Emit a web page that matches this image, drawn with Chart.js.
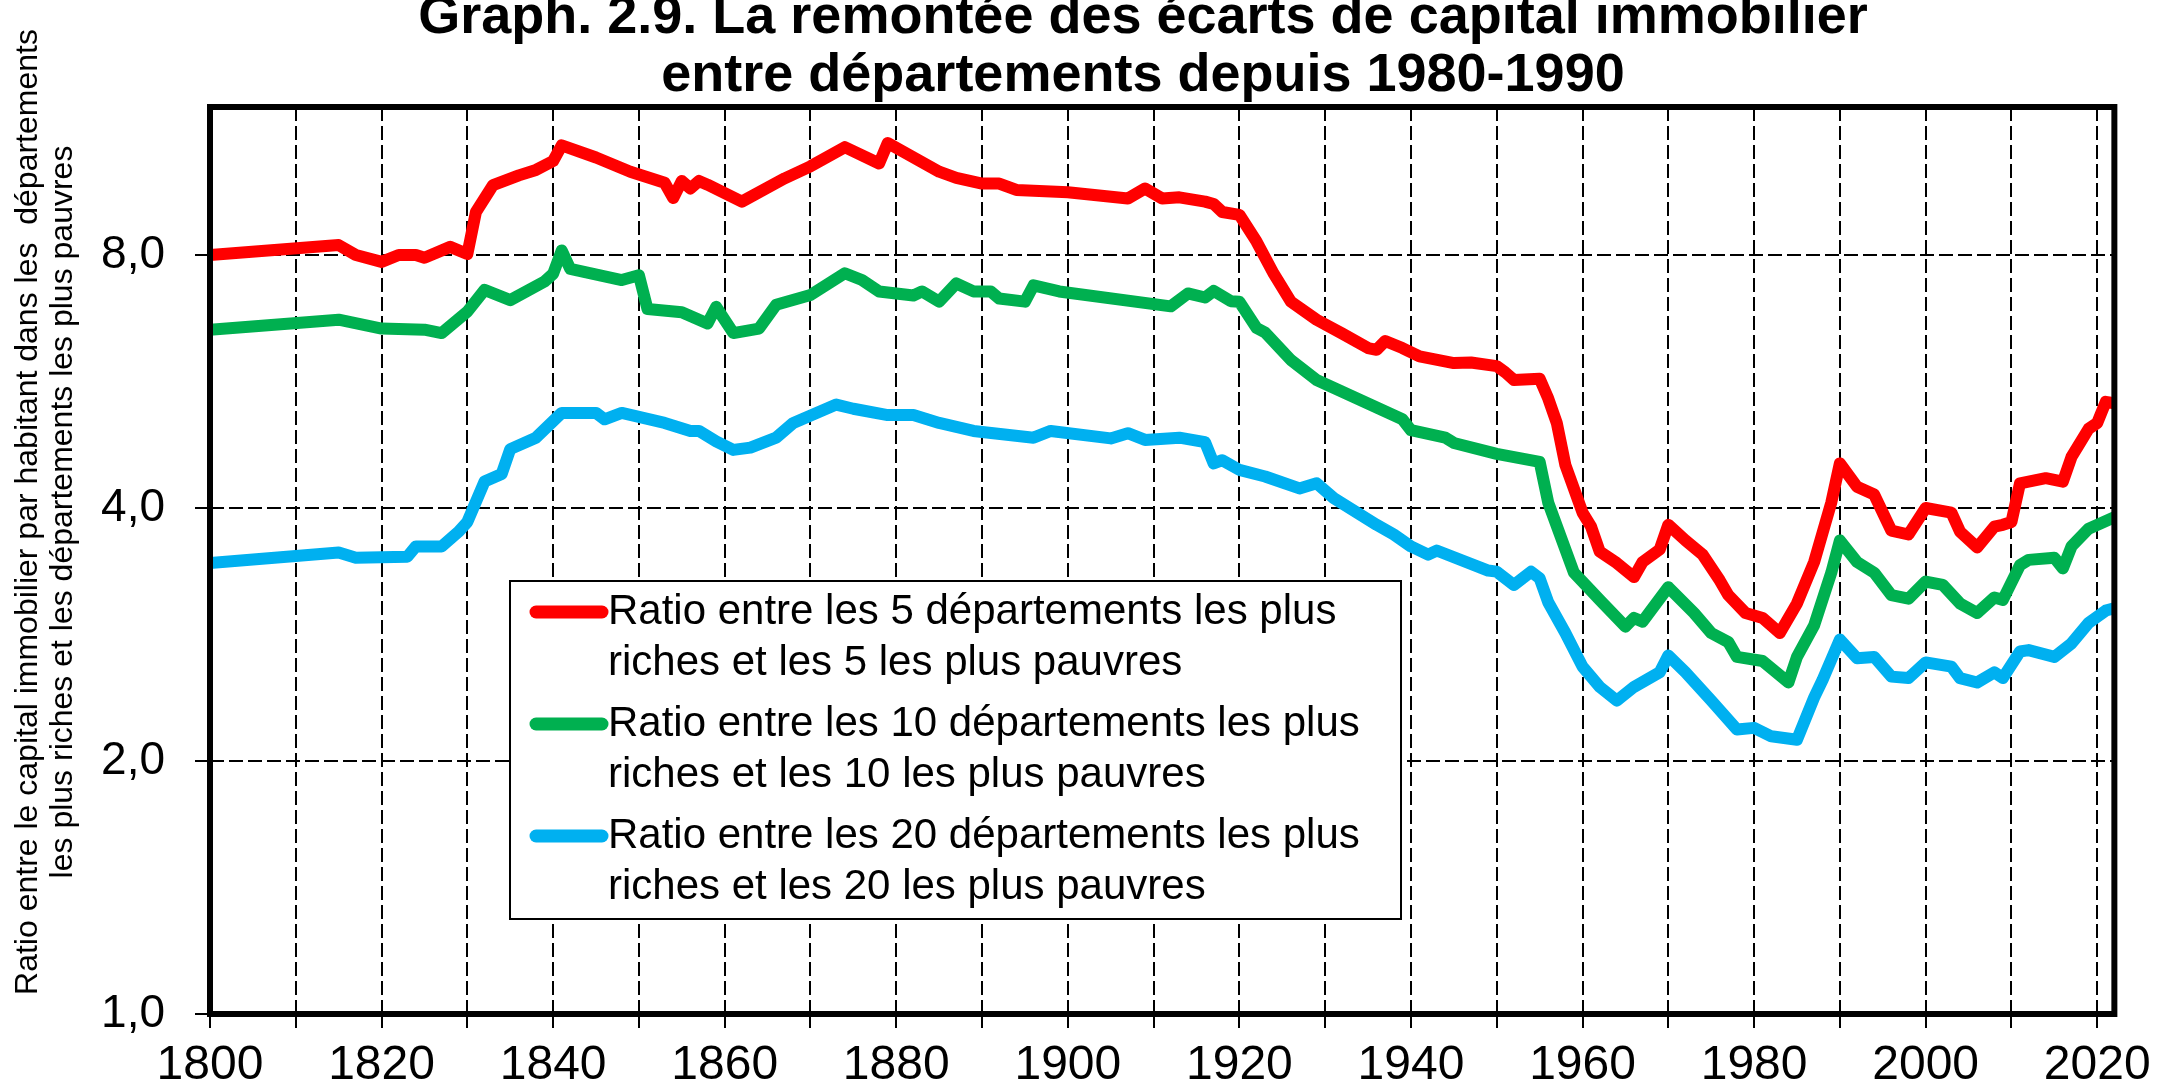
<!DOCTYPE html>
<html lang="fr">
<head>
<meta charset="utf-8">
<script src="https://cdn.jsdelivr.net/npm/chart.js@4.4.1/dist/chart.umd.min.js"></script>
<style>
  html, body { margin: 0; padding: 0; background: #fff; }
</style>
</head>
<body>
<canvas id="graph" width="2160" height="1088"></canvas>
<script>
// Données (ratio, échelle log)
const years5 = [1800,1815,1817,1820,1822,1824,1825,1828,1830,1831,1833,1836,1838,1840,1841,1845,1849,1853,1854,1855,1856,1857,1858,1862,1867,1870,1874,1878,1879,1885,1887,1890,1892,1894,1900,1907,1909,1911,1913,1916,1917,1918,1920,1922,1924,1926,1929,1932,1935,1936,1937,1939,1941,1945,1947,1950,1951,1952,1955,1956,1957,1958,1960,1961,1962,1964,1966,1967,1969,1970,1972,1974,1976,1977,1979,1981,1983,1985,1987,1989,1990,1992,1994,1996,1998,2000,2003,2004,2006,2008,2009,2010,2011,2014,2016,2017,2018,2019,2020,2021,2022];
const ratio5 = [8.0,8.22,8.0,7.85,8.0,8.0,7.94,8.18,8.02,9.0,9.69,9.95,10.1,10.35,10.8,10.45,10.05,9.75,9.35,9.8,9.6,9.8,9.7,9.26,9.87,10.2,10.75,10.28,10.87,10.05,9.88,9.73,9.73,9.56,9.5,9.34,9.6,9.34,9.37,9.26,9.2,9.0,8.93,8.3,7.6,7.04,6.7,6.45,6.2,6.17,6.32,6.2,6.06,5.95,5.96,5.9,5.8,5.68,5.7,5.4,5.05,4.5,3.95,3.8,3.55,3.44,3.31,3.45,3.57,3.82,3.66,3.52,3.28,3.15,3.0,2.96,2.84,3.08,3.45,4.06,4.52,4.24,4.15,3.76,3.72,4.0,3.95,3.75,3.59,3.8,3.82,3.85,4.28,4.34,4.3,4.6,4.78,4.97,5.05,5.35,5.33];

const years10 = [1800,1815,1820,1825,1827,1830,1832,1835,1839,1840,1841,1842,1848,1850,1851,1855,1858,1859,1861,1864,1866,1870,1874,1876,1878,1882,1883,1885,1887,1889,1891,1892,1895,1896,1899,1912,1914,1916,1917,1919,1920,1922,1923,1926,1929,1939,1940,1944,1945,1950,1955,1956,1959,1962,1965,1966,1967,1970,1973,1975,1977,1978,1981,1984,1985,1987,1989,1990,1992,1994,1996,1998,2000,2002,2004,2006,2008,2009,2011,2012,2015,2016,2017,2019,2022];
const ratio10 = [6.52,6.7,6.54,6.52,6.46,6.85,7.27,7.07,7.44,7.6,8.1,7.7,7.47,7.57,6.9,6.84,6.63,6.94,6.46,6.54,6.98,7.17,7.61,7.47,7.24,7.16,7.24,7.04,7.4,7.24,7.24,7.1,7.04,7.36,7.24,6.95,7.2,7.12,7.25,7.05,7.04,6.55,6.47,6.0,5.68,5.1,4.95,4.85,4.78,4.64,4.54,4.06,3.35,3.11,2.89,2.96,2.93,3.22,3.0,2.84,2.77,2.66,2.63,2.48,2.66,2.9,3.35,3.66,3.45,3.35,3.15,3.12,3.27,3.24,3.08,3.0,3.13,3.11,3.42,3.47,3.49,3.39,3.6,3.78,3.9];

const years20 = [1800,1815,1817,1823,1824,1827,1829,1830,1832,1834,1835,1838,1841,1845,1846,1848,1853,1856,1857,1859,1861,1863,1866,1868,1873,1875,1879,1882,1885,1889,1896,1898,1905,1907,1909,1913,1916,1917,1918,1920,1923,1927,1929,1931,1936,1938,1940,1942,1943,1949,1950,1952,1954,1955,1956,1958,1960,1962,1964,1966,1969,1970,1972,1975,1978,1980,1982,1985,1987,1988,1990,1992,1994,1996,1998,2000,2003,2004,2006,2008,2009,2011,2012,2015,2017,2019,2021,2022];
const ratio20 = [3.44,3.54,3.49,3.5,3.6,3.6,3.75,3.85,4.3,4.39,4.7,4.85,5.19,5.19,5.1,5.19,5.05,4.94,4.94,4.8,4.69,4.72,4.85,5.05,5.31,5.25,5.16,5.16,5.05,4.94,4.85,4.94,4.84,4.91,4.82,4.85,4.79,4.52,4.56,4.44,4.36,4.22,4.28,4.11,3.82,3.72,3.6,3.52,3.56,3.37,3.36,3.24,3.36,3.3,3.09,2.84,2.59,2.45,2.36,2.45,2.55,2.67,2.55,2.36,2.18,2.19,2.14,2.12,2.38,2.5,2.79,2.65,2.66,2.52,2.51,2.62,2.59,2.51,2.48,2.55,2.51,2.7,2.71,2.66,2.76,2.92,3.02,3.04];

const xTicks = [1800,1810,1820,1830,1840,1850,1860,1870,1880,1890,1900,1910,1920,1930,1940,1950,1960,1970,1980,1990,2000,2010,2020];
const yTicks = [1, 2, 4, 8];

const titleLines = ['Graph. 2.9. La remontée des écarts de capital immobilier', 'entre départements depuis 1980-1990'];
const yTitleLines = ['Ratio entre le capital immobilier par habitant dans les  départements', 'les plus riches et les départements les plus pauvres'];

const labels = [
  ['Ratio entre les 5 départements les plus', 'riches et les 5 les plus pauvres'],
  ['Ratio entre les 10 départements les plus', 'riches et les 10 les plus pauvres'],
  ['Ratio entre les 20 départements les plus', 'riches et les 20 les plus pauvres']
];
const colors = ['#ff0000', '#00b050', '#00b0f0'];

const FONT = '"Liberation Sans", Arial, sans-serif';

function points(xs, ys) {
  return xs.map((x, i) => ({ x: x, y: ys[i] }));
}

// titre, titre de l'axe y, cadre et légende dessinés à la main
const decor = {
  id: 'decor',
  afterDatasetsDraw(chart) {
    const ctx = chart.ctx;
    const a = chart.chartArea;
    ctx.save();

    // cadre épais
    ctx.strokeStyle = '#000';
    ctx.lineWidth = 6;
    ctx.strokeRect(a.left, a.top, a.right - a.left, a.bottom - a.top);

    // légende
    const bx = 510, by = 581, bw = 891, bh = 338;
    ctx.fillStyle = '#fff';
    ctx.fillRect(bx, by, bw, bh);
    ctx.lineWidth = 2;
    ctx.strokeRect(bx, by, bw, bh);
    ctx.font = '42px ' + FONT;
    ctx.textBaseline = 'middle';
    ctx.textAlign = 'left';
    chart.data.datasets.forEach((ds, i) => {
      const y0 = by + 31 + i * 112;
      ctx.strokeStyle = ds.borderColor;
      ctx.lineWidth = 13;
      ctx.lineCap = 'round';
      ctx.beginPath();
      ctx.moveTo(536, y0);
      ctx.lineTo(602, y0);
      ctx.stroke();
      ctx.fillStyle = '#000';
      ds.label.forEach((t, j) => ctx.fillText(t, 608, y0 + j * 51));
    });
    ctx.restore();
  },
  afterDraw(chart) {
    const ctx = chart.ctx;
    ctx.save();
    ctx.fillStyle = '#000';
    ctx.textAlign = 'center';
    ctx.textBaseline = 'alphabetic';
    ctx.font = 'bold 54px ' + FONT;
    titleLines.forEach((t, i) => ctx.fillText(t, 1143, 33 + i * 58));

    // titre de l'axe vertical
    ctx.font = '32px ' + FONT;
    ctx.textBaseline = 'middle';
    ctx.translate(0, 512);
    ctx.rotate(-Math.PI / 2);
    yTitleLines.forEach((t, i) => ctx.fillText(t, 0, 28 + i * 35));
    ctx.restore();
  }
};

new Chart(document.getElementById('graph'), {
  type: 'line',
  data: {
    datasets: [
      { label: labels[0], data: points(years5, ratio5), borderColor: colors[0] },
      { label: labels[1], data: points(years10, ratio10), borderColor: colors[1] },
      { label: labels[2], data: points(years20, ratio20), borderColor: colors[2] }
    ]
  },
  options: {
    responsive: false,
    animation: false,
    events: [],
    layout: { padding: { left: 0, top: 107, right: 44, bottom: 0 } },
    elements: {
      line: { borderWidth: 12, tension: 0, borderJoinStyle: 'round', borderCapStyle: 'round', fill: false },
      point: { radius: 0 }
    },
    plugins: {
      legend: { display: false },
      tooltip: { enabled: false }
    },
    scales: {
      x: {
        type: 'linear',
        min: 1800,
        max: 2022,
        afterBuildTicks: axis => { axis.ticks = xTicks.map(v => ({ value: v })); },
        afterFit: axis => { axis.height = 74; },
        ticks: {
          autoSkip: false,
          maxRotation: 0,
          padding: 9,
          color: '#000',
          font: { family: FONT, size: 48 },
          callback: v => (v % 20 === 0 ? String(v) : '')
        },
        grid: { color: '#000', lineWidth: 2, tickLength: 14, tickColor: '#000', tickWidth: 2 },
        border: { display: false, dash: [14, 5] }
      },
      y: {
        type: 'logarithmic',
        min: 1,
        max: 12,
        afterBuildTicks: axis => { axis.ticks = yTicks.map(v => ({ value: v })); },
        afterFit: axis => { axis.width = 210; },
        ticks: {
          padding: 30,
          color: '#000',
          font: { family: FONT, size: 46 },
          callback: v => v.toFixed(1).replace('.', ',')
        },
        grid: { color: '#000', lineWidth: 2, tickLength: 15, tickColor: '#000', tickWidth: 2 },
        border: { display: false, dash: [14, 5] }
      }
    }
  },
  plugins: [decor]
});
</script>
</body>
</html>
